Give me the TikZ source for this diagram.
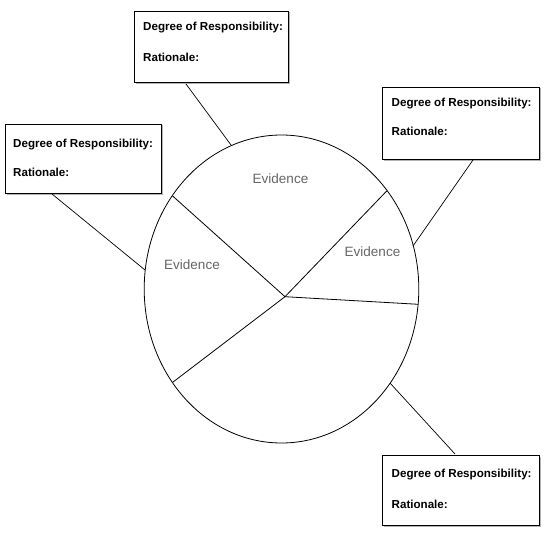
\documentclass[tikz,border=0pt]{standalone}
\usepackage{fontspec}
\setmainfont{Liberation Sans}
\begin{document}
\begin{tikzpicture}[x=1pt,y=-1pt,
  rbox/.style={draw=black,line width=0.9pt,fill=white},
  shadow/.style={draw=gray!60,line width=1.2pt},
  lbl/.style={anchor=west,inner sep=0pt,font=\fontsize{11.6}{13}\selectfont\bfseries},
  evid/.style={inner sep=0pt,text=black!60,font=\fontsize{13.5}{15}\selectfont},
  conn/.style={line width=0.7pt},
  spoke/.style={line width=0.8pt}]
\useasboundingbox (0,0) rectangle (550,543);
% ellipse
\draw[line width=0.8pt] (281.5,289) ellipse [x radius=137.3, y radius=154];
\coordinate (c) at (285,296.7);
\coordinate (ul) at (172.3,195.7);
\coordinate (ur) at (386.7,191);
\coordinate (r) at (418.3,304.3);
\coordinate (ll) at (172.7,382.3);
\draw[spoke] (ul) -- (c) -- (ur);
\draw[spoke] (r) -- (c) -- (ll);
\node[evid] (e1) at (280.5,179) {Evidence};
\node[evid] (e2) at (372.5,252) {Evidence};
\node[evid] (e3) at (192,265) {Evidence};
% boxes with shadow
\foreach \n/\xa/\ya/\xb/\yb in {b1/134/11/288/82, b2/5/124/161/193, b3/382/87/539/159, b4/382/455/539/525}{
  \draw[shadow] (\xa+1.5,\yb+1) -- (\xb+1,\yb+1) -- (\xb+1,\ya+1.5);
  \draw[rbox] (\xa,\ya) rectangle (\xb,\yb);
  \coordinate (\n) at (\xa,\ya);
}
\node[lbl] (t1a) at (143,28) {Degree of Responsibility:};
\node[lbl] (t1b) at (143,57) {Rationale:};
\node[lbl] (t2a) at (13,144.5) {Degree of Responsibility:};
\node[lbl] (t2b) at (13,172.5) {Rationale:};
\node[lbl] (t3a) at (391.5,103.5) {Degree of Responsibility:};
\node[lbl] (t3b) at (391.5,131.5) {Rationale:};
\node[lbl] (t4a) at (391.5,475) {Degree of Responsibility:};
\node[lbl] (t4b) at (391.5,504) {Rationale:};
% connectors
\coordinate (k1a) at (186,84); \coordinate (k1b) at (231,145);
\coordinate (k2a) at (52,194); \coordinate (k2b) at (145,270);
\coordinate (k3a) at (473,160); \coordinate (k3b) at (413,246);
\coordinate (k4a) at (390,383); \coordinate (k4b) at (455,454);
\draw[conn] (k1a) -- (k1b);
\draw[conn] (k2a) -- (k2b);
\draw[conn] (k3a) -- (k3b);
\draw[conn] (k4b) -- (k4a);
\end{tikzpicture}
\end{document}
